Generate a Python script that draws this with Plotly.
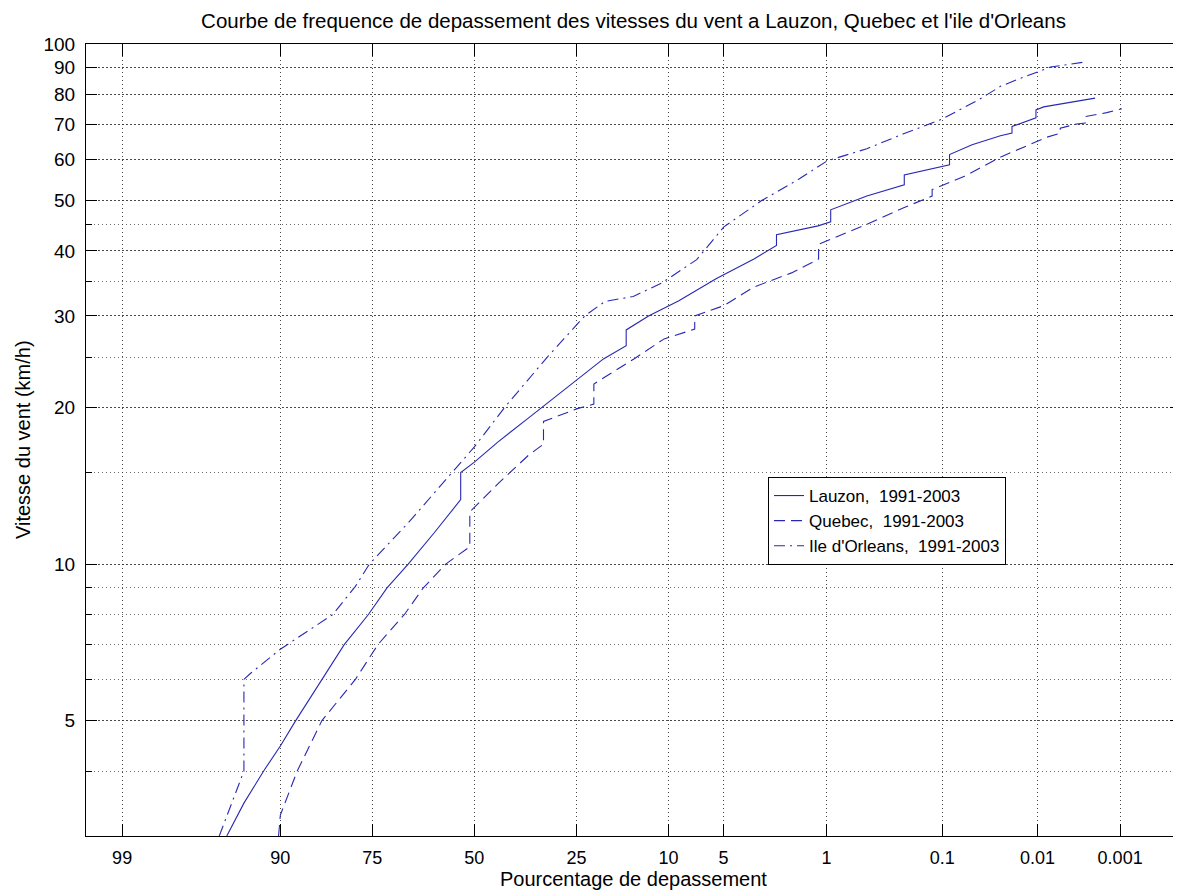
import math
from statistics import NormalDist
import plotly.graph_objects as go

# ---------------- data (exceedance %, wind speed km/h) ----------------
lauzon_pct = [94.9, 93.6, 91.8, 90.0, 88.1, 84.3, 80.5, 75.8, 71.8, 66.9, 60.4, 53.6, 53.6, 50.0,
              43.7, 36.0, 24.8, 19.7, 15.8, 15.8, 12.5, 8.84, 5.49, 3.24, 2.30, 2.30, 1.16, 0.93,
              0.93, 0.477, 0.226, 0.226, 0.085, 0.085, 0.0506, 0.0256, 0.0192, 0.0192, 0.0104,
              0.0104, 0.0085, 0.0045, 0.00207]
lauzon_speed = [3.0, 3.47, 4.0, 4.47, 5.0, 6.0, 7.0, 8.0, 9.0, 10.0, 11.5, 13.3, 15.0, 15.7,
                17.2, 19.1, 22.7, 24.8, 26.3, 28.2, 30.0, 32.1, 35.4, 38.6, 41.0, 43.0, 44.7, 45.5,
                48.0, 51.0, 53.6, 56.0, 58.6, 61.3, 64.0, 66.6, 67.4, 69.4, 72.1,
                74.7, 75.7, 77.0, 78.7]

quebec_pct = [90.2, 90.0, 87.9, 84.3, 78.4, 73.8, 67.8, 63.2, 57.5, 51.2, 51.2, 43.7, 36.0, 32.4,
              32.4, 24.8, 21.5, 21.5, 14.6, 10.5, 7.28, 7.28, 4.97, 3.24, 1.81, 1.15, 1.15, 0.477,
              0.226, 0.125, 0.125, 0.0604, 0.0246, 0.0078, 0.00545, 0.00545, 0.00345, 0.00274,
              0.00274, 0.00148, 0.00095]
quebec_speed = [3.0, 3.29, 4.0, 5.0, 6.0, 7.0, 8.0, 9.0, 10.0, 10.8, 12.6, 14.3, 16.2, 17.0,
                18.8, 19.9, 20.3, 22.2, 24.8, 27.1, 28.3, 30.0, 31.4, 34.1, 36.3, 38.6, 41.2, 45.0,
                48.5, 51.0, 52.5, 55.7, 60.8, 66.2, 67.4, 68.9, 70.2, 70.5,
                72.5, 73.8, 75.1]

ile_pct = [95.4, 93.6, 93.6, 93.05, 90.0, 82.5, 78.4, 75.6, 66.9, 59.4, 50.0, 42.1, 31.5, 23.3,
           19.4, 14.7, 10.8, 7.1, 4.97, 2.89, 1.60, 0.99, 0.477, 0.226, 0.1006, 0.0424, 0.0256,
           0.0169, 0.0101, 0.0071, 0.00296, 0.00296]
ile_speed = [3.0, 4.0, 6.0, 6.16, 6.86, 8.0, 9.06, 10.0, 12.0, 14.0, 16.8, 20.0, 25.0, 30.0,
             32.0, 32.7, 34.7, 38.5, 44.5, 50.0, 55.0, 59.6, 62.9, 67.3, 71.7, 78.3, 82.9,
             85.4, 88.2, 90.3, 92.2, 94.1]

x_tick_pct = [99, 90, 75, 50, 25, 10, 5, 1, 0.1, 0.01, 0.001]
x_tick_text = ["99", "90", "75", "50", "25", "10", "5", "1", "0.1", "0.01", "0.001"]
y_tick_vals = [5, 10, 20, 30, 40, 50, 60, 70, 80, 90, 100]
y_tick_text = ["5", "10", "20", "30", "40", "50", "60", "70", "80", "90", "100"]
y_minor_vals = [4, 6, 7, 8, 9, 15, 25, 35, 45]

x_range_z = [-2.565, 4.667]
y_range = [3, 100]

# ---------------- normal probability transform ----------------
nd = NormalDist()


def to_z(p):
    return nd.inv_cdf(1.0 - p / 100.0)


LINE_COLOR = "rgb(40,40,180)"
FONT = "Liberation Sans, Arial, Helvetica, sans-serif"

# the page body adds an 8px offset, so the figure is sized to fill the rest of the window
PAGE_OFF = 8
W, H = 1181 - PAGE_OFF, 893 - PAGE_OFF
ML, MR, MT, MB = 86 - PAGE_OFF, 0, 44 - PAGE_OFF, 57
PW, PH = W - ML - MR, H - MT - MB
PLOT_LEFT, PLOT_TOP, PLOT_BOTTOM = 86, 44, 836  # window pixels

fig = go.Figure()
fig.add_trace(go.Scatter(x=[to_z(p) for p in lauzon_pct], y=lauzon_speed, mode="lines",
                         name="Lauzon,\u00a0 1991-2003",
                         line=dict(color=LINE_COLOR, width=1.1)))
fig.add_trace(go.Scatter(x=[to_z(p) for p in quebec_pct], y=quebec_speed, mode="lines",
                         name="Quebec,\u00a0 1991-2003",
                         line=dict(color=LINE_COLOR, width=1.1, dash="11px,6px")))
fig.add_trace(go.Scatter(x=[to_z(p) for p in ile_pct], y=ile_speed, mode="lines",
                         name="Ile d'Orleans,\u00a0 1991-2003",
                         line=dict(color=LINE_COLOR, width=1.1, dash="11px,5px,2px,5px")))

GRID_MAJOR = "rgba(40,40,40,0.85)"
GRID_MINOR = "rgba(60,60,60,0.75)"

fig.update_layout(
    width=W, height=H,
    margin=dict(l=ML, r=MR, t=MT, b=MB),
    paper_bgcolor="white", plot_bgcolor="white",
    font=dict(family=FONT, color="black", size=18),
    title=dict(text="Courbe de frequence de depassement des vitesses du vent a Lauzon, Quebec et l'ile d'Orleans",
               x=0.5, xref="paper", xanchor="center",
               y=1 - (20.5 - PAGE_OFF) / H, yref="container", yanchor="middle",
               font=dict(family=FONT, size=20.5, color="black")),
    showlegend=True,
    legend=dict(x=(768 - PLOT_LEFT) / PW, y=(PLOT_BOTTOM - 477) / PH, xanchor="left", yanchor="top",
                bordercolor="black", borderwidth=1, bgcolor="white",
                font=dict(family=FONT, size=17, color="black"), tracegroupgap=0),
    xaxis=dict(range=x_range_z, tickmode="array", automargin=False,
               tickvals=[to_z(p) for p in x_tick_pct], ticktext=x_tick_text,
               ticks="inside", ticklen=12, tickcolor="black", tickwidth=1,
               showline=True, linecolor="black", linewidth=1, mirror="ticks",
               showgrid=True, gridcolor=GRID_MAJOR, gridwidth=1, griddash="1px,3px",
               zeroline=False, ticklabelstandoff=5, tickfont=dict(size=18)),
    yaxis=dict(type="log", range=[math.log10(y_range[0]), math.log10(y_range[1])],
               tickmode="array", tickvals=y_tick_vals, ticktext=y_tick_text, automargin=False,
               ticks="inside", ticklen=11, tickcolor="black", tickwidth=1,
               showline=True, linecolor="black", linewidth=1, mirror="ticks",
               showgrid=True, gridcolor=GRID_MAJOR, gridwidth=1, griddash="2px,2px",
               zeroline=False, ticklabelstandoff=6, tickfont=dict(size=19),
               minor=dict(tickmode="array", tickvals=y_minor_vals, ticks="inside", ticklen=6,
                          tickcolor="black", showgrid=True, gridcolor=GRID_MINOR,
                          griddash="1px,3px")),
    annotations=[
        dict(text="Pourcentage de depassement", xref="paper", yref="paper", x=0.5, y=0,
             xanchor="center", yanchor="middle", yshift=-43, showarrow=False,
             font=dict(family=FONT, size=20, color="black")),
        dict(text="Vitesse du vent (km/h)", xref="paper", yref="paper", x=0, y=0.5,
             xanchor="center", yanchor="middle", xshift=-63, textangle=-90, showarrow=False,
             font=dict(family=FONT, size=20, color="black")),
    ],
)

fig.write_html("out.html")
